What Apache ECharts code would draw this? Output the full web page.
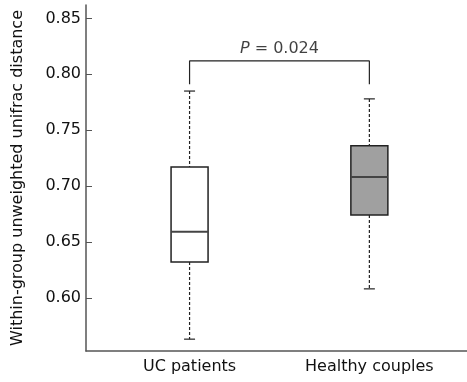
<!DOCTYPE html>
<html>
<head>
<meta charset="utf-8">
<script src="https://cdn.jsdelivr.net/npm/echarts@6/dist/echarts.min.js"></script>
<style>
html,body{margin:0;padding:0;background:#fff}
#main{width:467px;height:382px}
</style>
</head>
<body>
<div id="main"></div>
<script>
var groups = ['UC patients', 'Healthy couples'];
// min, Q1, median, Q3, max
var ucStats = [0.563, 0.632, 0.659, 0.717, 0.785];
var healthyStats = [0.608, 0.674, 0.708, 0.736, 0.778];
var yTicks = [0.60, 0.65, 0.70, 0.75, 0.80, 0.85];
var bracketTop = 0.812, bracketFoot = 0.791;
var pValue = '0.024';

var boxFills = ['#ffffff', '#a0a0a0'];
var font = 'DejaVu Sans';

var boxData = [[0].concat(ucStats), [1].concat(healthyStats)];

//画箱线
function renderBox(params, api) {
	var x = api.value(0);
	var lo = api.coord([x, api.value(1)]);
	var q1 = api.coord([x, api.value(2)]);
	var md = api.coord([x, api.value(3)]);
	var q3 = api.coord([x, api.value(4)]);
	var hi = api.coord([x, api.value(5)]);
	var cx = lo[0], half = 18.5, cap = 5.5;
	var dash = {stroke: '#222', lineWidth: 1.2, lineDash: [3, 2]};
	var solid = {stroke: '#222', lineWidth: 1.2};
	return {
		type: 'group',
		children: [
			{type: 'line', shape: {x1: cx, y1: hi[1], x2: cx, y2: q3[1]}, style: dash},
			{type: 'line', shape: {x1: cx, y1: q1[1], x2: cx, y2: lo[1]}, style: dash},
			{type: 'line', shape: {x1: cx - cap, y1: hi[1], x2: cx + cap, y2: hi[1]}, style: solid},
			{type: 'line', shape: {x1: cx - cap, y1: lo[1], x2: cx + cap, y2: lo[1]}, style: solid},
			{type: 'rect', shape: {x: cx - half, y: q3[1], width: half * 2, height: q1[1] - q3[1]},
				style: {fill: boxFills[params.dataIndex], stroke: '#222', lineWidth: 1.5}},
			{type: 'line', shape: {x1: cx - half, y1: md[1], x2: cx + half, y2: md[1]},
				style: {stroke: '#444', lineWidth: 2}}
		]
	};
}

var chart = echarts.init(document.getElementById('main'));
chart.setOption({
	animation: false,
	backgroundColor: '#fff',
	grid: {left: 86, right: 0, top: 5, bottom: 31},
	xAxis: {
		type: 'value',
		min: -0.576,
		max: 1.543,
		axisLine: {show: true, onZero: false, lineStyle: {color: '#555', width: 1.5}},
		axisTick: {show: false},
		splitLine: {show: false},
		axisLabel: {
			customValues: [0, 1],
			formatter: function(v) { return groups[Math.round(v)]; },
			fontFamily: font, fontSize: 16, color: '#111', margin: 8
		}
	},
	yAxis: {
		type: 'value',
		min: 0.5524,
		max: 0.862,
		name: 'Within-group unweighted unifrac distance',
		nameLocation: 'middle',
		nameGap: 60,
		nameTextStyle: {fontFamily: font, fontSize: 16, color: '#111'},
		axisLine: {show: true, onZero: false, lineStyle: {color: '#555', width: 1.5}},
		axisTick: {show: true, inside: true, length: 6, customValues: yTicks, lineStyle: {color: '#555'}},
		splitLine: {show: false},
		axisLabel: {
			customValues: yTicks,
			formatter: function(v) { return v.toFixed(2); },
			fontFamily: font, fontSize: 16, color: '#111', margin: 5
		}
	},
	series: [{
		type: 'custom',
		renderItem: renderBox,
		data: boxData,
		encode: {x: 0, y: [1, 2, 3, 4, 5]}
	}, {
		type: 'line',
		symbol: 'none',
		lineStyle: {color: '#222', width: 1.2},
		data: [[0, bracketFoot], [0, bracketTop], [1, bracketTop], [1, bracketFoot]]
	}, {
		type: 'scatter',
		symbolSize: 0,
		data: [[0.5, bracketTop]],
		label: {
			show: true,
			position: 'top',
			distance: 4,
			formatter: '{i|P} = ' + pValue,
			fontFamily: font, fontSize: 16, color: '#111',
			rich: {i: {fontStyle: 'italic', fontFamily: font, fontSize: 16, color: '#111'}}
		}
	}]
});
</script>
</body>
</html>
